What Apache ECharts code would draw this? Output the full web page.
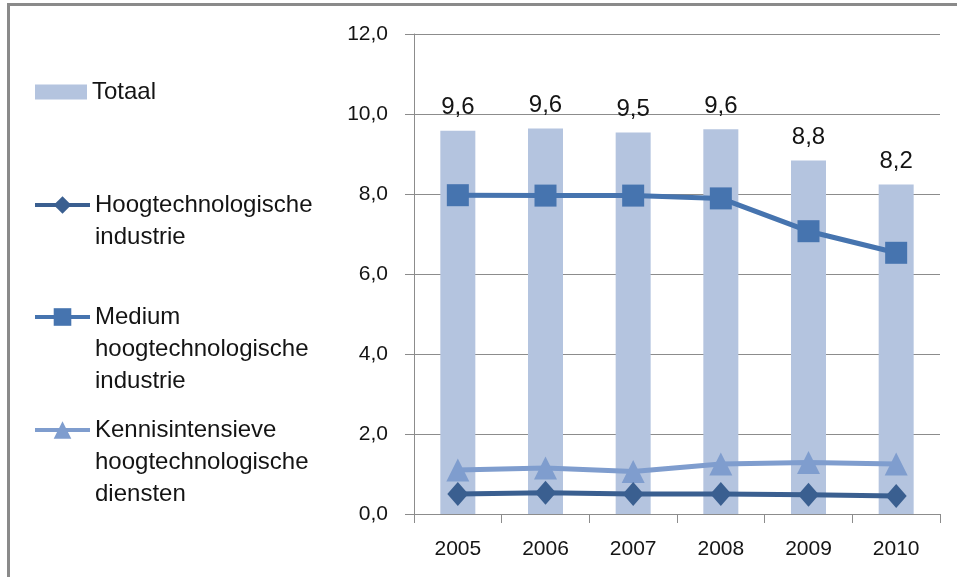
<!DOCTYPE html>
<html>
<head>
<meta charset="utf-8">
<script src="https://cdn.jsdelivr.net/npm/echarts@6/dist/echarts.min.js"></script>
<style>
  html, body { margin: 0; padding: 0; background: #fff; }
  #chart { width: 957px; height: 577px; }
</style>
</head>
<body>
<div id="chart"></div>
<script>
// jaren op de x-as
var years = ['2005', '2006', '2007', '2008', '2009', '2010'];
// waarden
var totaal = [9.58, 9.64, 9.54, 9.62, 8.84, 8.24];
var medium = [7.97, 7.96, 7.96, 7.89, 7.07, 6.53];
var kennis = [1.10, 1.15, 1.06, 1.25, 1.29, 1.25];
var hoog = [0.50, 0.53, 0.50, 0.50, 0.48, 0.45];

var names = ['Totaal', 'Hoogtechnologische industrie', 'Medium hoogtechnologische industrie', 'Kennisintensieve hoogtechnologische diensten'];
// legend tekst, per regel
var legendLines = [
    ['Totaal'],
    ['Hoogtechnologische', 'industrie'],
    ['Medium', 'hoogtechnologische', 'industrie'],
    ['Kennisintensieve', 'hoogtechnologische', 'diensten']
];

var font = 'Liberation Sans';
var txt = '#141414';
var gridCol = '#8c8c8c';
var LH = 32;

function comma(v) {
    return Number(v).toFixed(1).replace('.', ',');
}

// een legend per item, icoon naast de eerste regel
function makeLegend(i, left, centerY, w, h, icon) {
    var n = legendLines[i].length;
    var blockH = Math.max(h, (2 * n - 1) * LH);
    var lg = {
        data: [names[i]],
        left: left,
        top: centerY - blockH / 2,
        orient: 'vertical',
        padding: 0,
        itemWidth: w,
        itemHeight: h,
        itemGap: 0,
        selectedMode: false,
        formatter: function () {
            var pre = '';
            for (var k = 1; k < n; k++) pre += '\n';
            return pre + legendLines[i].join('\n');
        },
        textStyle: { fontFamily: font, fontSize: 24, color: txt, lineHeight: LH },
        lineStyle: { width: 4 }
    };
    if (icon) lg.icon = icon;
    return lg;
}

var chart = echarts.init(document.getElementById('chart'), null, { renderer: 'canvas' });

var option = {
    animation: false,
    backgroundColor: '#fff',
    graphic: [{
        type: 'rect',
        shape: { x: 8.5, y: 4.5, width: 1200, height: 1200 },
        style: { fill: 'none', stroke: '#8a8a8a', lineWidth: 3 },
        silent: true
    }],
    legend: [
        makeLegend(0, 35, 92, 52, 15, 'rect'),
        makeLegend(1, 33, 205, 55, 22),
        makeLegend(2, 33, 317, 55, 22),
        makeLegend(3, 33, 430, 55, 22)
    ],
    grid: { left: 414, right: 17, top: 34, bottom: 63 },
    xAxis: {
        type: 'category',
        data: years,
        axisLine: { lineStyle: { color: gridCol, width: 1 } },
        axisTick: { show: true, alignWithLabel: false, length: 9, lineStyle: { color: gridCol } },
        axisLabel: { fontFamily: font, fontSize: 21, color: txt, margin: 25 }
    },
    yAxis: {
        type: 'value',
        min: 0,
        max: 12,
        interval: 2,
        axisLine: { show: true, lineStyle: { color: gridCol, width: 1 } },
        axisTick: { show: true, length: 9, lineStyle: { color: gridCol } },
        splitLine: { lineStyle: { color: gridCol, width: 1 } },
        axisLabel: {
            fontFamily: font, fontSize: 21, color: txt, margin: 26,
            formatter: function (v) { return comma(v); }
        }
    },
    series: [
        {
            name: names[0],
            type: 'bar',
            data: totaal,
            barWidth: 35,
            itemStyle: { color: '#b4c4df' },
            label: {
                show: true,
                position: 'top',
                distance: 11,
                fontFamily: font,
                fontSize: 24,
                color: txt,
                formatter: function (p) { return comma(p.value); }
            },
            z: 1
        },
        {
            name: names[1],
            type: 'line',
            data: hoog,
            symbol: 'diamond',
            symbolSize: [21, 24],
            lineStyle: { color: '#3a5f90', width: 5 },
            itemStyle: { color: '#3a5f90' },
            z: 3
        },
        {
            name: names[2],
            type: 'line',
            data: medium,
            symbol: 'rect',
            symbolSize: 22,
            lineStyle: { color: '#4674af', width: 5 },
            itemStyle: { color: '#4674af' },
            z: 3
        },
        {
            name: names[3],
            type: 'line',
            data: kennis,
            symbol: 'triangle',
            symbolSize: 23,
            lineStyle: { color: '#7f9dce', width: 5 },
            itemStyle: { color: '#7f9dce' },
            z: 2
        }
    ]
};

chart.setOption(option);
</script>
</body>
</html>
